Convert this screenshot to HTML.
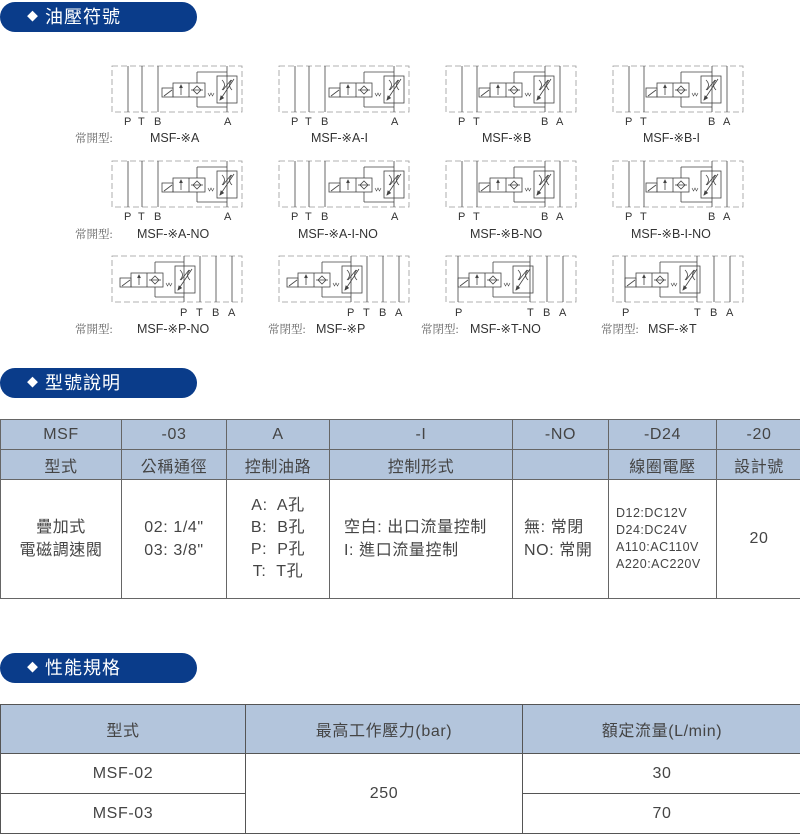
<!DOCTYPE html>
<html><head><meta charset="utf-8">
<style>
*{margin:0;padding:0;box-sizing:border-box}
body{width:800px;height:834px;background:#fff;position:relative;overflow:hidden;font-family:"Liberation Sans","Noto Sans CJK TC",sans-serif;color:#333}
.bar{position:absolute;left:0;width:197px;height:30px;background:#0a3c8a;border-radius:15px;color:#fff;font-size:18px;line-height:30px;padding-left:27px;letter-spacing:1px}
.bar span{font-size:11px;vertical-align:3px;margin-right:6px}
table{position:absolute;left:0;border-collapse:collapse;table-layout:fixed}
td{border:1px solid #555;text-align:center;font-size:16px;color:#444;letter-spacing:0.6px}
.h td{background:#b3c5dc}
#t1 td{border-color:#666}
</style></head><body>
<div class="bar" style="top:2px"><span>◆</span>油壓符號</div>
<div class="bar" style="top:368px"><span>◆</span>型號說明</div>
<div class="bar" style="top:653px"><span>◆</span>性能規格</div>

<svg width="800" height="350" style="position:absolute;left:0;top:0" font-family="Liberation Sans, sans-serif">
<defs>
<g id="v" fill="none" stroke="#444" stroke-width="0.8">
 <rect x="0" y="22" width="11" height="9"/><line x1="2" y1="30" x2="10" y2="24"/>
 <rect x="11" y="17" width="32" height="14"/><line x1="27" y1="17" x2="27" y2="31"/>
 <line x1="19" y1="19" x2="19" y2="29"/><path d="M17.5 22 L19 19 L20.5 22" fill="#444"/>
 <path d="M31 24 L35 20 L39 24 L35 28 Z"/><line x1="29" y1="24" x2="41" y2="24"/>
 <line x1="35" y1="6" x2="35" y2="17"/><line x1="35" y1="31" x2="35" y2="41"/>
 <path d="M46 27 l1.5 3 1.5-3 1.5 3 1.5-3" stroke-width="0.6"/>
 <rect x="55" y="10" width="20" height="27"/>
 <line x1="58" y1="34" x2="72" y2="13"/><path d="M58 34 l1-4 2.5 2 z" fill="#444"/>
 <path d="M60 14 Q65 19 60 24 M70 14 Q65 19 70 24"/><line x1="61" y1="24" x2="69" y2="14"/>
</g>
<rect id="box" x="0" y="0" width="130" height="46" fill="none" stroke="#999" stroke-width="0.8" stroke-dasharray="6,3"/>
</defs>
<g stroke="#444" stroke-width="0.8" fill="none">
<g transform="translate(112,66)"><use href="#box"/><path d="M16 0V46M30 0V46M46 0V46M115 0V46M85 6H115M85 41H115"/><use href="#v" x="50"/></g>
<g transform="translate(279,66)"><use href="#box"/><path d="M16 0V46M30 0V46M46 0V46M115 0V46M85 6H115M85 41H115"/><use href="#v" x="50"/></g>
<g transform="translate(446,66)"><use href="#box"/><path d="M16 0V46M31 0V46M99 0V46M114 0V46M68 6H99M68 41H99"/><use href="#v" x="33"/></g>
<g transform="translate(613,66)"><use href="#box"/><path d="M16 0V46M31 0V46M99 0V46M114 0V46M68 6H99M68 41H99"/><use href="#v" x="33"/></g>
<g transform="translate(112,161)"><use href="#box"/><path d="M16 0V46M30 0V46M46 0V46M115 0V46M85 6H115M85 41H115"/><use href="#v" x="50"/></g>
<g transform="translate(279,161)"><use href="#box"/><path d="M16 0V46M30 0V46M46 0V46M115 0V46M85 6H115M85 41H115"/><use href="#v" x="50"/></g>
<g transform="translate(446,161)"><use href="#box"/><path d="M16 0V46M31 0V46M99 0V46M114 0V46M68 6H99M68 41H99"/><use href="#v" x="33"/></g>
<g transform="translate(613,161)"><use href="#box"/><path d="M16 0V46M31 0V46M99 0V46M114 0V46M68 6H99M68 41H99"/><use href="#v" x="33"/></g>
<g transform="translate(112,256)"><use href="#box"/><path d="M72 0V46M88 0V46M104 0V46M120 0V46M43 6H72M43 41H72"/><use href="#v" x="8"/></g>
<g transform="translate(279,256)"><use href="#box"/><path d="M72 0V46M88 0V46M104 0V46M120 0V46M43 6H72M43 41H72"/><use href="#v" x="8"/></g>
<g transform="translate(446,256)"><use href="#box"/><path d="M12 0V46M84 0V46M101 0V46M117 0V46M47 6H84M47 41H84"/><use href="#v" x="12"/></g>
<g transform="translate(613,256)"><use href="#box"/><path d="M12 0V46M84 0V46M101 0V46M117 0V46M47 6H84M47 41H84"/><use href="#v" x="12"/></g>
</g>
<g font-size="11" fill="#333">
<text x="124" y="125">P</text><text x="138" y="125">T</text><text x="154" y="125">B</text><text x="224" y="125">A</text>
<text x="291" y="125">P</text><text x="305" y="125">T</text><text x="321" y="125">B</text><text x="391" y="125">A</text>
<text x="458" y="125">P</text><text x="473" y="125">T</text><text x="541" y="125">B</text><text x="556" y="125">A</text>
<text x="625" y="125">P</text><text x="640" y="125">T</text><text x="708" y="125">B</text><text x="723" y="125">A</text>
<text x="124" y="220">P</text><text x="138" y="220">T</text><text x="154" y="220">B</text><text x="224" y="220">A</text>
<text x="291" y="220">P</text><text x="305" y="220">T</text><text x="321" y="220">B</text><text x="391" y="220">A</text>
<text x="458" y="220">P</text><text x="473" y="220">T</text><text x="541" y="220">B</text><text x="556" y="220">A</text>
<text x="625" y="220">P</text><text x="640" y="220">T</text><text x="708" y="220">B</text><text x="723" y="220">A</text>
<text x="180" y="316">P</text><text x="196" y="316">T</text><text x="212" y="316">B</text><text x="228" y="316">A</text>
<text x="347" y="316">P</text><text x="363" y="316">T</text><text x="379" y="316">B</text><text x="395" y="316">A</text>
<text x="455" y="316">P</text><text x="527" y="316">T</text><text x="543" y="316">B</text><text x="559" y="316">A</text>
<text x="622" y="316">P</text><text x="694" y="316">T</text><text x="710" y="316">B</text><text x="726" y="316">A</text>
</g>
<g font-size="12.5" fill="#333">
<text x="150" y="142">MSF-※A</text><text x="311" y="142">MSF-※A-I</text><text x="482" y="142">MSF-※B</text><text x="643" y="142">MSF-※B-I</text>
<text x="137" y="238">MSF-※A-NO</text><text x="298" y="238">MSF-※A-I-NO</text><text x="470" y="238">MSF-※B-NO</text><text x="631" y="238">MSF-※B-I-NO</text>
<text x="137" y="333">MSF-※P-NO</text><text x="316" y="333">MSF-※P</text><text x="470" y="333">MSF-※T-NO</text><text x="648" y="333">MSF-※T</text>
</g>
<g font-size="11.5" fill="#666" font-family="Liberation Serif, Noto Serif CJK SC, serif">
<text x="75" y="142">常開型:</text><text x="75" y="238">常開型:</text><text x="75" y="333">常開型:</text>
<text x="268" y="333">常閉型:</text><text x="421" y="333">常閉型:</text><text x="601" y="333">常閉型:</text>
</g>
</svg>

<table id="t1" style="top:419px;width:801px">
<colgroup><col style="width:121px"><col style="width:105px"><col style="width:103px"><col style="width:183px"><col style="width:96px"><col style="width:108px"><col style="width:85px"></colgroup>
<tr class="h" style="height:30px"><td>MSF</td><td>-03</td><td>A</td><td>-I</td><td>-NO</td><td>-D24</td><td>-20</td></tr>
<tr class="h" style="height:30px"><td>型式</td><td>公稱通徑</td><td>控制油路</td><td>控制形式</td><td></td><td>線圈電壓</td><td>設計號</td></tr>
<tr style="height:119px"><td style="line-height:23px">疊加式<br>電磁調速閥</td><td style="line-height:23px">02: 1/4"<br>03: 3/8"</td><td style="line-height:22px">A:&nbsp; A孔<br>B:&nbsp; B孔<br>P:&nbsp; P孔<br>T:&nbsp; T孔</td><td style="text-align:left;padding-left:14px;line-height:23px">空白: 出口流量控制<br>I: 進口流量控制</td><td style="text-align:left;padding-left:11px;line-height:23px">無: 常閉<br>NO: 常開</td><td style="text-align:left;padding-left:7px;font-size:12.5px;line-height:17px;letter-spacing:0.5px">D12:DC12V<br>D24:DC24V<br>A110:AC110V<br>A220:AC220V</td><td>20</td></tr>
</table>

<table style="top:704px;width:801px">
<colgroup><col style="width:245px"><col style="width:277px"><col style="width:279px"></colgroup>
<tr class="h" style="height:49px"><td>型式</td><td>最高工作壓力(bar)</td><td>額定流量(L/min)</td></tr>
<tr style="height:40px"><td>MSF-02</td><td rowspan="2">250</td><td>30</td></tr>
<tr style="height:40px"><td>MSF-03</td><td>70</td></tr>
</table>
</body></html>
